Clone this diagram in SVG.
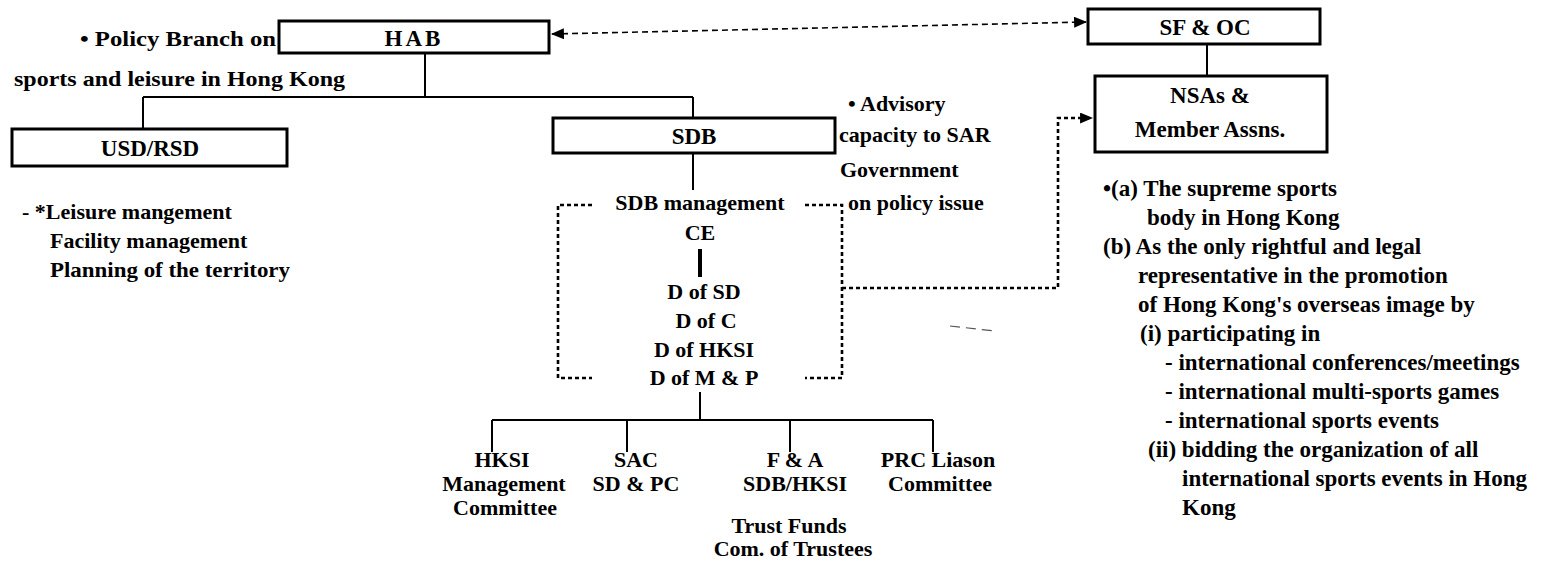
<svg xmlns="http://www.w3.org/2000/svg" width="1542" height="562" viewBox="0 0 1542 562">
<defs>
<marker id="ah" viewBox="0 0 12 10" refX="11" refY="5" markerWidth="13" markerHeight="11" markerUnits="userSpaceOnUse" orient="auto-start-reverse"><path d="M0,0 L12,5 L0,10 z" fill="#000"/></marker>
</defs>
<style>
text{font-family:"Liberation Serif","Times New Roman",serif;font-weight:bold;font-size:22px;fill:#000}
.c{text-anchor:middle}
.box{fill:#fff;stroke:#000;stroke-width:3}
.lbl{font-size:23px}
.r{font-size:23px}
.ln{fill:none;stroke:#000;stroke-width:2}
.bar{fill:none;stroke:#000;stroke-width:4}
.dash{fill:none;stroke:#000;stroke-width:1.6;stroke-dasharray:6 4}
.dot{fill:none;stroke:#000;stroke-width:2.6;stroke-dasharray:4 3}
</style>
<rect width="1542" height="562" fill="#fff"/>

<g id="connectors">
<path class="ln" d="M425,53 V97 M143,97 H693 M143,97 V129 M693,97 V118"/>
<path class="ln" d="M693,153 V190"/>
<path class="bar" d="M700,249 V277"/>
<path class="ln" d="M700,392 V420 M492,420 H933 M492,420 V452 M627,420 V452 M790,420 V452 M933,420 V452"/>
<path class="ln" d="M1207,44 V76"/>
<path class="dash" d="M552,34 L1086,22" marker-start="url(#ah)" marker-end="url(#ah)"/>
<path class="dot" d="M592,205 H558 V378 H592"/>
<path class="dot" d="M805,205 H842 V378 H805"/>
<path class="dot" d="M842,288 H1058 V118 H1092" marker-end="url(#ah)"/>
<path d="M950,326 L995,331" fill="none" stroke="#555" stroke-width="1.2" stroke-dasharray="10 6"/>
</g>

<g id="hab">
<rect class="box" x="279" y="21" width="270" height="32"/>
<text class="c lbl" x="414" y="46" letter-spacing="3">HAB</text>
</g>
<g id="hab-note">
<text x="80" y="46" textLength="196" lengthAdjust="spacingAndGlyphs">• Policy Branch on</text>
<text x="14" y="86" textLength="331" lengthAdjust="spacingAndGlyphs">sports and leisure in Hong Kong</text>
</g>

<g id="sfoc">
<rect class="box" x="1088" y="9" width="232" height="35"/>
<text class="c lbl" x="1205" y="35">SF &amp; OC</text>
</g>

<g id="nsas">
<rect class="box" x="1095" y="76" width="232" height="76"/>
<text class="c lbl" x="1210" y="103">NSAs &amp;</text>
<text class="c lbl" x="1210" y="137">Member Assns.</text>
</g>

<g id="usd">
<rect class="box" x="12" y="129" width="275" height="37"/>
<text class="c lbl" x="150" y="156">USD/RSD</text>
</g>
<g id="usd-note">
<text x="22" y="219">- *Leisure mangement</text>
<text x="50" y="248">Facility management</text>
<text x="50" y="277" textLength="240" lengthAdjust="spacingAndGlyphs">Planning of the territory</text>
</g>

<g id="sdb">
<rect class="box" x="553" y="118" width="282" height="35"/>
<text class="c lbl" x="694" y="144">SDB</text>
</g>
<g id="sdb-note">
<text x="848" y="111">• Advisory</text>
<text x="839" y="142">capacity to SAR</text>
<text x="840" y="177">Government</text>
<text x="848" y="210">on policy issue</text>
</g>

<g id="sdb-management">
<text class="c" x="700" y="210">SDB management</text>
<text class="c" x="700" y="240">CE</text>
<text class="c" x="704" y="299">D of SD</text>
<text class="c" x="706" y="328">D of C</text>
<text class="c" x="704" y="357">D of HKSI</text>
<text class="c" x="704" y="385">D of M &amp; P</text>
</g>

<g id="hksi">
<text class="c" x="502" y="467">HKSI</text>
<text class="c" x="504" y="491">Management</text>
<text class="c" x="505" y="515">Committee</text>
</g>
<g id="sac">
<text class="c" x="636" y="467">SAC</text>
<text class="c" x="636" y="491">SD &amp; PC</text>
</g>
<g id="fa">
<text class="c" x="795" y="467">F &amp; A</text>
<text class="c" x="795" y="491">SDB/HKSI</text>
<text class="c" x="789" y="533">Trust Funds</text>
<text class="c" x="793" y="556">Com. of Trustees</text>
</g>
<g id="prc">
<text class="c" x="938" y="467">PRC Liason</text>
<text class="c" x="940" y="491">Committee</text>
</g>

<g id="nsas-note">
<text class="r" x="1103" y="196">•(a) The supreme sports</text>
<text class="r" x="1147" y="225">body in Hong Kong</text>
<text class="r" x="1103" y="254">(b) As the only rightful and legal</text>
<text class="r" x="1138" y="283">representative in the promotion</text>
<text class="r" x="1138" y="312">of Hong Kong's overseas image by</text>
<text class="r" x="1140" y="341">(i) participating in</text>
<text class="r" x="1165" y="370">- international conferences/meetings</text>
<text class="r" x="1165" y="399">- international multi-sports games</text>
<text class="r" x="1165" y="428">- international sports events</text>
<text class="r" x="1148" y="457">(ii) bidding the organization of all</text>
<text class="r" x="1182" y="486">international sports events in Hong</text>
<text class="r" x="1182" y="515">Kong</text>
</g>
</svg>
